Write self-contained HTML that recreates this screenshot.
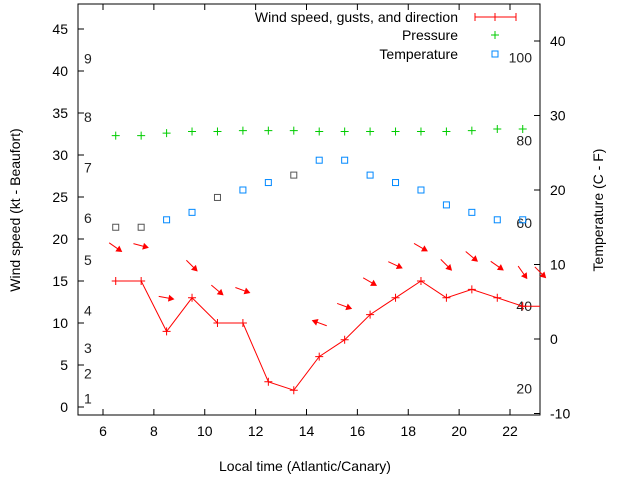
<!DOCTYPE html>
<html><head><meta charset="utf-8"><style>
body{margin:0;background:#fff}
svg{display:block;font-family:"Liberation Sans",sans-serif}
</style></head><body>
<svg id="c" width="640" height="480" xmlns="http://www.w3.org/2000/svg"></svg>
<script>
const hours=[6.5,7.5,8.5,9.5,10.5,11.5,12.5,13.5,14.5,15.5,16.5,17.5,18.5,19.5,20.5,21.5,22.5];
const windSpeed=[15,15,9,13,10,10,3,2,6,8,11,13,15,13,14,13,12];
const pressure=[32.3,32.3,32.6,32.8,32.8,32.9,32.9,32.9,32.8,32.8,32.8,32.8,32.8,32.8,32.9,33.1,33.1];
const temperature=[15,15,16,17,19,20,21,22,24,24,22,21,20,18,17,16,16];
const tempGray=[1,1,0,0,1,0,0,1,0,0,0,0,0,0,0,0,0];
const arrowHours=[6.5,7.5,8.5,9.5,10.5,11.5,14.5,15.5,16.5,17.5,18.5,19.5,20.5,21.5,22.5,23.2];
const arrowLevel=[19,19.2,13,16.8,13.9,13.9,10,12,14.9,16.9,19,16.9,17.9,16.8,16,16];
const arrowAngle=[35,15,10,45,40,20,200,20,30,25,30,45,40,35,55,45];
const xTicks=[6,8,10,12,14,16,18,20,22];
const yTicks=[0,5,10,15,20,25,30,35,40,45];
const y2Ticks=[-10,0,10,20,30,40];
const beaufort=[1,2,3,4,5,6,7,8,9];
const beaufortKt=[1,4,7,11.5,17.5,22.5,28.5,34.5,41.5];
const fahr=[20,40,60,80,100];

const L=78,R=540,T=4,B=415;
const X=v=>103+(v-6)*(407/16);
const Y=v=>407-v*8.4;
const Y2=v=>339-v*7.45;
const svg=document.getElementById('c');
function el(t,a,txt){const e=document.createElementNS('http://www.w3.org/2000/svg',t);for(const k in a)e.setAttribute(k,a[k]);if(txt!==undefined)e.textContent=txt;svg.appendChild(e);return e;}
let e;
e=el('rect',{x:L,y:T,width:R-L,height:B-T,fill:'none',stroke:'#000','stroke-width':1});

xTicks.forEach(t=>{el('line',{x1:X(t),x2:X(t),y1:B,y2:B-6,stroke:'#000'});el('line',{x1:X(t),x2:X(t),y1:T,y2:T+6,stroke:'#000'});
e=el('text',{x:X(t),y:B+21,'font-size':14,'text-anchor':'middle'},t);});
yTicks.forEach(t=>{el('line',{x1:L,x2:L+6,y1:Y(t),y2:Y(t),stroke:'#000'});
e=el('text',{x:L-10,y:Y(t)+5,'font-size':14,'text-anchor':'end'},t);});
y2Ticks.forEach(t=>{el('line',{x1:R,x2:R-6,y1:Y2(t),y2:Y2(t),stroke:'#000'});
e=el('text',{x:R+10,y:Y2(t)+5,'font-size':14},t);});
beaufort.forEach((b,i)=>{e=el('text',{x:84,y:Y(beaufortKt[i])+5,'font-size':14,fill:'#222'},b);});
fahr.forEach(f=>{const c=(f-32)*5/9;e=el('text',{x:532,y:Y2(c)+5,'font-size':14,'text-anchor':'end',fill:'#222'},f);});
e=el('text',{x:305,y:471,'font-size':14,'text-anchor':'middle'},'Local time (Atlantic/Canary)');
e=el('text',{x:20,y:210,'font-size':14,'text-anchor':'middle',transform:'rotate(-90 20 210)'},'Wind speed (kt - Beaufort)');
e=el('text',{x:603,y:210,'font-size':14,'text-anchor':'middle',transform:'rotate(-90 603 210)'},'Temperature (C - F)');
// wind line
let pts=hours.map((h,i)=>X(h)+','+Y(windSpeed[i]));pts.push(R+','+Y(windSpeed[windSpeed.length-1]));
e=el('polyline',{points:pts.join(' '),fill:'none',stroke:'#f00','stroke-width':1});
hours.forEach((h,i)=>{const x=X(h),y=Y(windSpeed[i]);e=el('path',{d:`M${x-4} ${y}H${x+4}M${x} ${y-4}V${y+4}`,stroke:'#f00'});});
// pressure
hours.forEach((h,i)=>{const x=X(h),y=Y(pressure[i]);e=el('path',{d:`M${x-4} ${y}H${x+4}M${x} ${y-4}V${y+4}`,stroke:'#0c0'});});
// temperature
hours.forEach((h,i)=>{const x=X(h),y=Y2(temperature[i]);e=el('rect',{x:x-3,y:y-3,width:6,height:6,fill:'none',stroke:tempGray[i]?'#555':'#08f'});});
// arrows
arrowHours.forEach((h,i)=>{const x=X(h),y=Y(arrowLevel[i]);const a=arrowAngle[i];
e=el('g',{transform:`translate(${x} ${y}) rotate(${a})`});
const l=document.createElementNS('http://www.w3.org/2000/svg','line');l.setAttribute('x1',-8);l.setAttribute('x2',6);l.setAttribute('y1',0);l.setAttribute('y2',0);l.setAttribute('stroke','#f00');e.appendChild(l);
const p=document.createElementNS('http://www.w3.org/2000/svg','path');p.setAttribute('d','M8 0L2 -3.5L2 3.5Z');p.setAttribute('fill','#f00');e.appendChild(p);});
// legend
const leg=[['Wind speed, gusts, and direction',17],['Pressure',35],['Temperature',54]];
leg.forEach((l,i)=>{e=el('text',{x:458,y:l[1]+5,'font-size':14,'text-anchor':'end'},l[0]);});
e=el('path',{d:'M475 17H516M495 13V21M475 13V21M516 13V21',stroke:'#f00'});
e=el('path',{d:'M491 35H499M495 31V39',stroke:'#0c0'});
e=el('rect',{x:492,y:51,width:6,height:6,fill:'none',stroke:'#08f'});
</script>
</body></html>
